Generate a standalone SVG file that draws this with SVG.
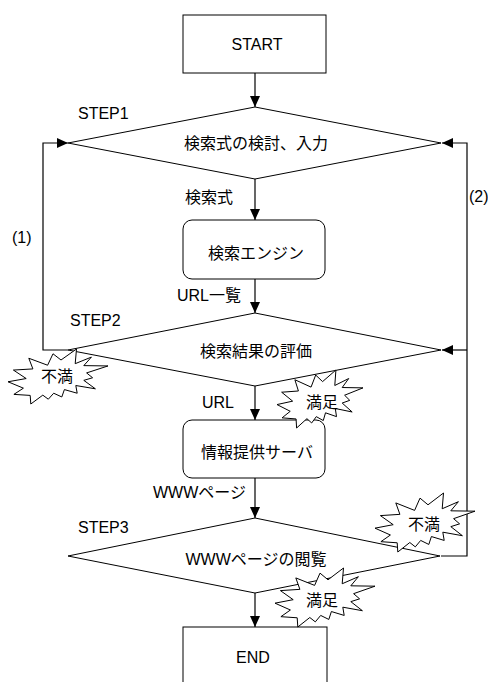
<svg xmlns="http://www.w3.org/2000/svg" xmlns:xlink="http://www.w3.org/1999/xlink" width="488" height="682" viewBox="0 0 488 682">
<style>
  .shape { fill: #ffffff; stroke: #000000; stroke-width: 1; }
  .line { fill: none; stroke: #000000; stroke-width: 1.2; }
  .t { font-family: "Liberation Sans", "Noto Sans CJK JP", sans-serif; font-size: 16px; fill: #000000; }
  .c { text-anchor: middle; }
  .burst { fill: #ffffff; stroke: #000000; stroke-width: 1; vector-effect: non-scaling-stroke; }
</style>
<defs>
  <marker id="arr" markerUnits="userSpaceOnUse" markerWidth="11" markerHeight="10" refX="11" refY="5" orient="auto">
    <path d="M0,0 L11,5 L0,10 z" fill="#000000"/>
  </marker>
  <polygon id="seal" class="burst" points="53,20 68.5,0 67.2,26.7 83.4,14.7 75.8,30.2 100,30.8 78.6,43.5 84.6,52.3 75.8,57 87.4,72.4 67.8,66.4 69.2,80.4 56.4,73.8 53.8,87.2 45.7,80.4 40.3,91.3 34.8,83.9 22.8,100 22.2,84.4 5.9,82.5 15.4,71.2 0,59.6 18.2,53.7 5.4,38.3 24.9,36.2 20.8,16.8 39.6,29.5 45,8.7"/>
</defs>
<rect width="488" height="682" fill="#ffffff"/>

<g id="connectors">
  <line class="line" x1="255" y1="73" x2="255" y2="107" marker-end="url(#arr)"/>
  <line class="line" x1="255" y1="179" x2="255" y2="220" marker-end="url(#arr)"/>
  <line class="line" x1="255" y1="279" x2="255" y2="313" marker-end="url(#arr)"/>
  <line class="line" x1="255" y1="386" x2="255" y2="420" marker-end="url(#arr)"/>
  <line class="line" x1="255" y1="478" x2="255" y2="518" marker-end="url(#arr)"/>
  <line class="line" x1="255" y1="593" x2="255" y2="627" marker-end="url(#arr)"/>
  <path class="line" d="M68,350 H43 V143 H68" marker-end="url(#arr)"/>
  <path class="line" d="M441,556 H467 V143 H442" marker-end="url(#arr)"/>
  <path class="line" d="M467,350 H442" marker-end="url(#arr)"/>
  <text class="t" x="12" y="243">(1)</text>
  <text class="t" x="469" y="202">(2)</text>
  <text class="t" x="185" y="203">検索式</text>
  <text class="t" x="177" y="301">URL一覧</text>
  <text class="t" x="202" y="408">URL</text>
  <text class="t" x="153" y="498">WWWページ</text>
</g>

<g id="start">
  <rect class="shape" x="183" y="15" width="143" height="58"/>
  <text class="t c" x="257" y="50">START</text>
</g>

<g id="step1">
  <polygon class="shape" points="255,107 441,143 255,179 68,143"/>
  <text class="t" x="78" y="119">STEP1</text>
  <text class="t c" x="256" y="149">検索式の検討、入力</text>
</g>

<g id="engine">
  <rect class="shape" x="183" y="220" width="142" height="59" rx="9" ry="9"/>
  <text class="t c" x="256" y="259">検索エンジン</text>
</g>

<g id="step2">
  <polygon class="shape" points="255,313 441,350 255,386 68,350"/>
  <text class="t" x="70" y="326">STEP2</text>
  <text class="t c" x="256" y="357">検索結果の評価</text>
</g>

<g id="server">
  <rect class="shape" x="183" y="420" width="142" height="58" rx="9" ry="9"/>
  <text class="t c" x="257" y="458">情報提供サーバ</text>
</g>

<g id="step3">
  <polygon class="shape" points="255,518 440,556 255,593 68,556"/>
  <text class="t" x="78" y="533">STEP3</text>
  <text class="t c" x="256" y="565">WWWページの閲覧</text>
</g>

<g id="end">
  <rect class="shape" x="183" y="627" width="144" height="70"/>
  <text class="t c" x="253" y="663">END</text>
</g>

<g id="burst-fuman1">
  <use xlink:href="#seal" transform="translate(8,349) scale(1,0.55)"/>
  <text class="t c" x="57" y="382">不満</text>
</g>

<g id="burst-manzoku1">
  <use xlink:href="#seal" transform="translate(277,370) scale(0.86,0.58)"/>
  <text class="t c" x="322" y="408">満足</text>
</g>

<g id="burst-fuman2">
  <use xlink:href="#seal" transform="translate(375,493) scale(1,0.59)"/>
  <text class="t c" x="424" y="530">不満</text>
</g>

<g id="burst-manzoku2">
  <use xlink:href="#seal" transform="translate(275,568) scale(1,0.59)"/>
  <text class="t c" x="322" y="606">満足</text>
</g>
</svg>
